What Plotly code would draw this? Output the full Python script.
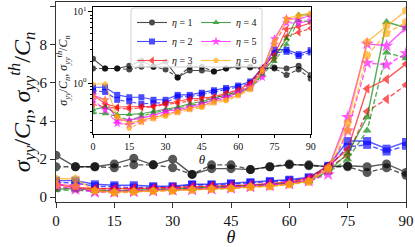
import plotly.graph_objects as go

# ---------------- data ----------------
theta = [0, 5, 10, 15, 20, 25, 30, 35, 40, 45, 50, 55, 60, 65, 70, 75, 80, 85, 90]
eta_names = ["<i>η</i> = 1", "<i>η</i> = 2", "<i>η</i> = 3",
             "<i>η</i> = 4", "<i>η</i> = 5", "<i>η</i> = 6"]

# sigma_yy / C_n (solid lines)
sig_eta1 = [2.2, 1.6, 1.6, 1.75, 2.05, 1.7, 2.0, 1.2, 1.5, 1.5, 1.45, 1.6, 1.7, 1.7, 1.6, 1.65, 1.6, 1.75, 1.3]
sig_eta2 = [0.87, 0.87, 0.68, 0.63, 0.63, 0.58, 0.58, 0.68, 0.68, 0.73, 0.79, 0.85, 0.92, 1.05, 1.65, 2.95, 2.95, 2.55, 2.9]
sig_eta3 = [0.68, 0.51, 0.46, 0.46, 0.47, 0.47, 0.52, 0.55, 0.6, 0.61, 0.64, 0.72, 0.8, 1.0, 1.65, 2.5, 5.7, 6.2, 7.0]
sig_eta4 = [0.42, 0.46, 0.36, 0.36, 0.37, 0.4, 0.43, 0.46, 0.51, 0.55, 0.61, 0.68, 0.75, 0.87, 1.35, 2.3, 4.2, 9.2, 8.9]
sig_eta5 = [0.68, 0.58, 0.3, 0.3, 0.32, 0.35, 0.4, 0.42, 0.46, 0.51, 0.58, 0.64, 0.73, 0.9, 1.5, 4.2, 8.05, 7.95, 8.9]
sig_eta6 = [0.97, 0.97, 0.34, 0.27, 0.3, 0.33, 0.35, 0.4, 0.44, 0.47, 0.55, 0.58, 0.68, 0.85, 1.55, 3.9, 8.15, 9.0, 9.8]

# sigma_yy^th / C_n (dashed lines)
sig_th_eta1 = [1.6, 1.6, 1.6, 1.55, 1.7, 1.7, 1.55, 1.2, 1.7, 1.7, 1.45, 1.6, 1.75, 1.65, 1.6, 1.6, 1.3, 1.55, 1.15]
sig_th_eta2 = [0.78, 0.75, 0.58, 0.55, 0.51, 0.52, 0.53, 0.64, 0.64, 0.69, 0.75, 0.8, 0.88, 1.0, 1.55, 2.65, 2.75, 2.4, 2.7]
sig_th_eta3 = [0.5, 0.46, 0.44, 0.43, 0.45, 0.46, 0.5, 0.52, 0.56, 0.58, 0.62, 0.68, 0.76, 0.95, 1.55, 2.2, 4.5, 5.15, 5.9]
sig_th_eta4 = [0.38, 0.37, 0.34, 0.3, 0.34, 0.38, 0.41, 0.44, 0.48, 0.52, 0.58, 0.64, 0.72, 0.83, 1.3, 2.0, 3.5, 7.6, 7.3]
sig_th_eta5 = [0.58, 0.42, 0.27, 0.26, 0.29, 0.33, 0.37, 0.4, 0.44, 0.48, 0.55, 0.61, 0.7, 0.85, 1.2, 3.5, 7.05, 6.95, 7.55]
sig_th_eta6 = [0.64, 0.58, 0.33, 0.23, 0.28, 0.31, 0.34, 0.38, 0.42, 0.45, 0.52, 0.56, 0.66, 0.8, 1.45, 3.5, 7.45, 8.6, 9.2]

main_ticks = [0, 15, 30, 45, 60, 75, 90]
y_ticks = [0, 2, 4, 6, 8, 10]

sig_all = [sig_eta1, sig_eta2, sig_eta3, sig_eta4, sig_eta5, sig_eta6]
sig_th_all = [sig_th_eta1, sig_th_eta2, sig_th_eta3, sig_th_eta4, sig_th_eta5, sig_th_eta6]

# ---------------- style ----------------
colors = ["#000000", "#0000ff", "#ff0000", "#008000", "#ff00ff", "#ffa500"]
symbols = ["circle", "square", "triangle-left", "triangle-up", "star", "pentagon"]
main_sizes = [9, 8, 9, 8, 10, 9]
inset_sizes = [6, 6, 7, 6, 7, 6]
FONT = "Liberation Serif"
W, H = 415, 247
ML, MR, MT, MB = 56, 9, 2, 45
PW, PH = W - ML - MR, H - MT - MB


def px_x(px):
    return (px - ML) / PW


def px_y(py):
    return (H - MB - py) / PH


fig = go.Figure()

# main plot
for i in range(6):
    for vals, dash in ((sig_all[i], "solid"), (sig_th_all[i], "5px,2.5px")):
        fig.add_trace(go.Scatter(
            x=theta, y=vals, xaxis="x", yaxis="y", mode="lines+markers",
            line=dict(color=colors[i], width=1.4, dash=dash),
            marker=dict(symbol=symbols[i], size=main_sizes[i], color=colors[i]),
            opacity=0.65, showlegend=False, hoverinfo="skip"))

# inset
for i in range(6):
    for k, (vals, dash) in enumerate(((sig_all[i], "solid"), (sig_th_all[i], "4px,2px"))):
        fig.add_trace(go.Scatter(
            x=theta, y=vals, xaxis="x2", yaxis="y2", mode="lines+markers",
            line=dict(color=colors[i], width=1.1, dash=dash),
            marker=dict(symbol=symbols[i], size=inset_sizes[i], color=colors[i]),
            opacity=0.7, name=eta_names[i], showlegend=(k == 0),
            legend="legend" if i < 3 else "legend2", hoverinfo="skip"))

axis_font = dict(family=FONT, size=15, color="#111")
inset_font = dict(family=FONT, size=10, color="#111")
ylab = "<i>σ<sub>yy</sub></i>/<i>C<sub>n</sub></i>, <i>σ<sub>yy</sub><sup>th</sup></i>/<i>C<sub>n</sub></i>"

minor_vals = [0.2, 0.3, 0.4, 0.5, 0.6, 0.7, 0.8, 0.9, 2, 3, 4, 5, 6, 7, 8, 9]

# legend box (one frame around two legend columns)
bx0, bx1, by0, by1 = px_x(131), px_x(262), px_y(8), px_y(67)
rx, ry = 3 / PW, 3 / PH
box_path = (f"M {bx0+rx},{by0} L {bx1-rx},{by0} Q {bx1},{by0} {bx1},{by0-ry} "
            f"L {bx1},{by1+ry} Q {bx1},{by1} {bx1-rx},{by1} L {bx0+rx},{by1} "
            f"Q {bx0},{by1} {bx0},{by1+ry} L {bx0},{by0-ry} Q {bx0},{by0} {bx0+rx},{by0} Z")

fig.update_layout(
    width=W, height=H,
    margin=dict(l=ML, r=MR, t=MT, b=MB, autoexpand=False),
    paper_bgcolor="white", plot_bgcolor="white",
    font=dict(family=FONT, color="#111"),
    xaxis=dict(domain=[0, 1], range=[0, 90], tickvals=main_ticks, ticks="outside",
               ticklen=5, tickwidth=1, tickcolor="#333", showgrid=False, zeroline=False,
               showline=True, linecolor="#333", linewidth=1, mirror=True,
               tickfont=axis_font, automargin=False,
               title=dict(text="<i>θ</i>", font=dict(family=FONT, size=18), standoff=0)),
    yaxis=dict(domain=[0, 1], range=[-0.25, 10.25], tickvals=y_ticks, ticks="outside",
               ticklen=5, tickwidth=1, tickcolor="#333", showgrid=False, zeroline=False,
               showline=True, linecolor="#333", linewidth=1, mirror=True,
               tickfont=axis_font, automargin=False,
               title=dict(text=ylab, font=dict(family=FONT, size=24), standoff=2)),
    xaxis2=dict(domain=[px_x(93), px_x(310.7)], anchor="y2", range=[0, 90],
                tickvals=main_ticks, ticks="outside", ticklen=3, tickcolor="#000",
                showgrid=False, zeroline=False, showline=True, linecolor="#000",
                linewidth=1.2, mirror=True, tickfont=inset_font, automargin=False,
                title=dict(text="<i>θ</i>", font=dict(family=FONT, size=13), standoff=1)),
    yaxis2=dict(domain=[px_y(134), px_y(7)], anchor="x2", type="log",
                range=[-0.718, 1.070], tickvals=[1, 10],
                ticktext=["10<sup>0</sup>", "10<sup>1</sup>"], ticks="outside",
                ticklen=3.5, tickcolor="#000",
                minor=dict(tickvals=minor_vals, ticks="outside", ticklen=2, tickcolor="#000"),
                showgrid=False, zeroline=False, showline=True, linecolor="#000",
                linewidth=1.2, mirror=True, tickfont=inset_font, automargin=False,
                title=dict(text=ylab, font=dict(family=FONT, size=12), standoff=2)),
    legend=dict(x=px_x(132), y=px_y(8), xanchor="left", yanchor="top",
                bgcolor="rgba(0,0,0,0)", borderwidth=0, itemwidth=30,
                font=dict(family=FONT, size=10, color="#111"), tracegroupgap=0),
    legend2=dict(x=px_x(196), y=px_y(8), xanchor="left", yanchor="top",
                 bgcolor="rgba(0,0,0,0)", borderwidth=0, itemwidth=30,
                 font=dict(family=FONT, size=10, color="#111"), tracegroupgap=0),
    shapes=[dict(type="path", path=box_path, xref="paper", yref="paper",
                 line=dict(color="#d0d0d0", width=1),
                 fillcolor="rgba(255,255,255,0.8)", layer="above")],
)

fig.write_html("out.html", config={"responsive": False, "displayModeBar": False},
               post_script="document.body.style.margin='0';document.body.style.overflow='hidden';")
